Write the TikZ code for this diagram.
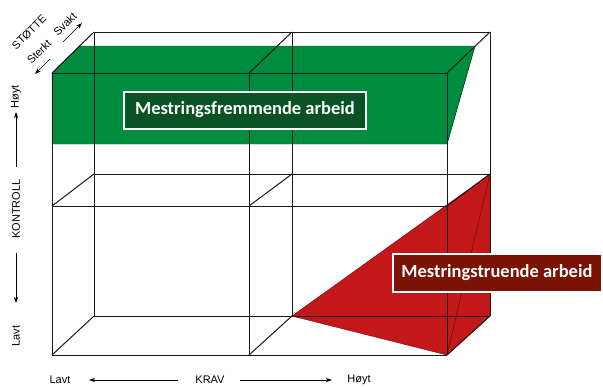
\documentclass[tikz,border=0pt]{standalone}
\usepackage{fontspec}
\setmainfont{Liberation Sans}
\newfontfamily\calfont{Carlito}
\usetikzlibrary{arrows.meta}
\definecolor{cgreen}{RGB}{0,140,62}
\definecolor{cdkgreen}{RGB}{8,82,36}
\definecolor{cred}{RGB}{194,24,26}
\definecolor{cdkred}{RGB}{122,18,6}
\tikzset{
  edge/.style={draw=black!90, line width=1pt},
  axlabel/.style={font=\fontsize{11}{12}\selectfont, inner sep=0pt},
  axarrow/.style={line width=0.6pt, -{Stealth[length=6pt,width=4pt]}},
  tag/.style={draw=white, line width=2pt, text=white, inner sep=0pt,
    font=\calfont\bfseries\fontsize{18.5}{22}\selectfont},
}
\begin{document}
\begin{tikzpicture}[x=1pt,y=-1pt]
\useasboundingbox (0,0) rectangle (603,386);
% cube corners: front (f) and back (b); columns l,m,r ; rows t,c,b
\coordinate (flt) at (52,73);  \coordinate (fmt) at (249,73);  \coordinate (frt) at (447,73);
\coordinate (flc) at (52,206); \coordinate (fmc) at (249,206); \coordinate (frc) at (447,206);
\coordinate (flb) at (52,355); \coordinate (fmb) at (249,355); \coordinate (frb) at (447,355);
\coordinate (blt) at (94,32);  \coordinate (bmt) at (292,32);  \coordinate (brt) at (490,32);
\coordinate (blc) at (94,174); \coordinate (bmc) at (292,174); \coordinate (brc) at (490,174);
\coordinate (blb) at (94,316); \coordinate (bmb) at (292,316); \coordinate (brb) at (490,316);
% green block
\coordinate (g1) at (52,144); \coordinate (g2) at (79.5,46); \coordinate (g3) at (475,46);
\coordinate (g4) at (447,144);
\fill[cgreen, draw=cgreen!70!black, line width=0.4pt] (g1) -- (flt) -- (g2) -- (g3) -- (g4) -- cycle;
\draw[cgreen!50!black, line width=0.5pt] (g3) -- (g4);
% red wedge
\fill[cred, draw=cred!70!black, line width=0.5pt] (bmb) -- (brc) -- (brb) -- (frb) -- cycle;
\draw[cred!50!black, line width=0.5pt] (frb) -- (brc);
% wireframe
\draw[edge] (flt) -- (frt) (flc) -- (frc) (flb) -- (frb);
\draw[edge] (flt) -- (flb) (fmt) -- (fmb) (frt) -- (frb);
\draw[edge] (blt) -- (brt) (blc) -- (brc) (blb) -- (brb);
\draw[edge] (blt) -- (blb) (bmt) -- (bmb) (brt) -- (brb);
\draw[edge] (flt) -- (blt) (fmt) -- (bmt) (frt) -- (brt);
\draw[edge] (flc) -- (blc) (fmc) -- (bmc) (frc) -- (brc);
\draw[edge] (flb) -- (blb) (fmb) -- (bmb) (frb) -- (brb);
% tags
\node[tag, fill=cdkgreen, minimum width=242pt, minimum height=37pt] (tg) at (245,110) {Mestringsfremmende arbeid};
\node[tag, fill=cdkred, minimum width=209pt, minimum height=38pt] (tr) at (497,272.5) {Mestringstruende arbeid};
% left axis
\node[axlabel, rotate=90] (khoy) at (16,97) {Høyt};
\node[axlabel, rotate=90] (kon) at (16,209) {KONTROLL};
\node[axlabel, rotate=90] (klav) at (16,336) {Lavt};
\coordinate (ku1) at (16,167); \coordinate (ku2) at (16,112);
\coordinate (kd1) at (16,253); \coordinate (kd2) at (16,303);
\draw[axarrow] (ku1) -- (ku2);
\draw[axarrow] (kd1) -- (kd2);
% bottom axis
\node[axlabel] (blav) at (60,380) {Lavt};
\node[axlabel] (krav) at (210,380) {KRAV};
\node[axlabel] (bhoy) at (359,380) {Høyt};
\coordinate (ka1) at (178,380); \coordinate (ka2) at (89,380);
\coordinate (kb1) at (240,380); \coordinate (kb2) at (332,380);
\draw[axarrow] (ka1) -- (ka2);
\draw[axarrow] (kb1) -- (kb2);
% support axis
\node[axlabel, rotate=45] (stotte) at (29,32) {STØTTE};
\node[axlabel, rotate=45] (sterkt) at (39,52) {Sterkt};
\node[axlabel, rotate=45] (svakt) at (65,24) {Svakt};
\coordinate (s1) at (50,59); \coordinate (s2) at (35,74);
\coordinate (s3) at (63,42); \coordinate (s4) at (82,23);
\draw[axarrow] (s1) -- (s2);
\draw[axarrow] (s3) -- (s4);
\end{tikzpicture}
\end{document}
